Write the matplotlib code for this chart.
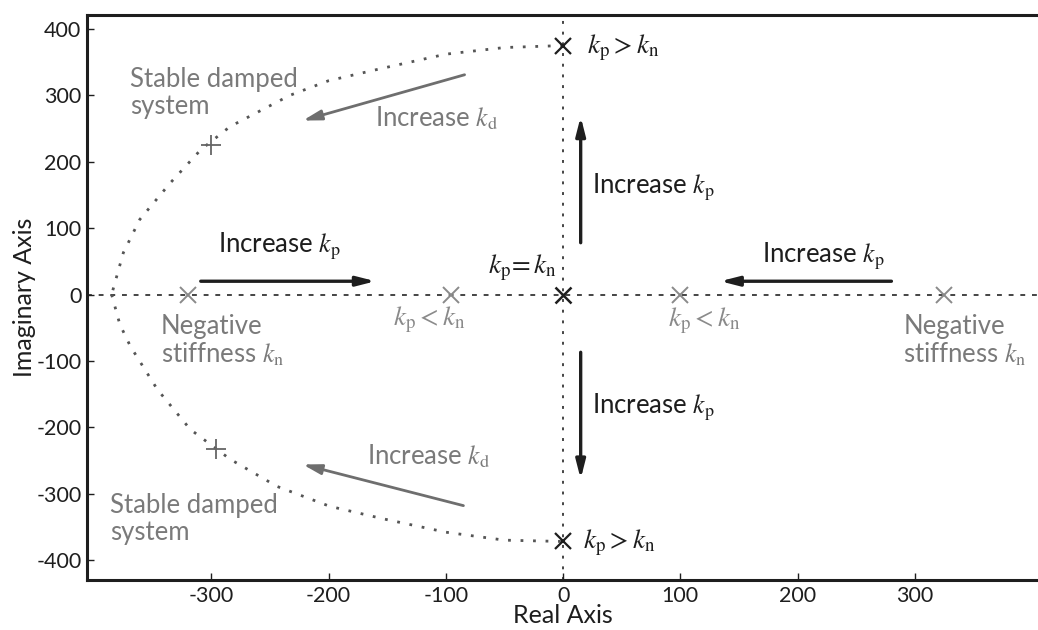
import matplotlib.pyplot as plt

plt.rcParams['font.family'] = ['Lato', 'DejaVu Sans']
plt.rcParams['mathtext.fontset'] = 'stix'
plt.rcParams['axes.unicode_minus'] = False

# locus traced by the damped poles
upper_x = [0, -50, -100, -156, -200, -233, -284, -309, -335, -361, -375, -385]
upper_y = [375, 372, 362, 340, 322, 300, 253, 218, 168, 113, 63, 0]
lower_x = [-385, -378, -369, -346, -318, -284, -244, -199, -153, -100, -50, 0]
lower_y = [0, -45, -78, -143, -203, -248, -289, -319, -338, -358, -370, -372]

# poles
neg_stiff_x = [-320, -96, 100, 325]      # gray x on the real axis
kp_gt_kn_y = [375, -372]                 # black x on the imaginary axis
damped_x = [-300, -296]                  # + markers
damped_y = [225, -233]

xticks = [-300, -200, -100, 0, 100, 200, 300]
yticks = [-400, -300, -200, -100, 0, 100, 200, 300, 400]

GRAY = '#7a7a7a'
DARK = '#1e1e1e'

fig = plt.figure(figsize=(10.38, 6.30), dpi=100)
ax = fig.add_axes([87 / 1038, 50 / 630, 1 - 87 / 1038, 565 / 630])
ax.set_xlim(-406, 405)
ax.set_ylim(-430, 421)

# dotted axes through the origin
ax.axhline(0, color='#444444', lw=1.4, ls=(0, (2.5, 3.5)), zorder=1)
ax.axvline(0, color='#444444', lw=1.4, ls=(0, (1.5, 4)), zorder=1)

# dotted locus
ax.plot(upper_x, upper_y, color='#555555', lw=2.0, ls=(0, (1, 3.5)), zorder=2)
ax.plot(lower_x, lower_y, color='#555555', lw=2.0, ls=(0, (1, 3.5)), zorder=2)

# markers
ax.plot(neg_stiff_x, [0] * len(neg_stiff_x), 'x', color='#8a8a8a', ms=11, mew=1.4, zorder=3)
ax.plot([0, 0], kp_gt_kn_y, 'x', color=DARK, ms=11, mew=1.6, zorder=3)
ax.plot([0], [0], 'x', color=DARK, ms=11, mew=1.8, zorder=3)
ax.plot(damped_x, damped_y, '+', color='#666666', ms=15, mew=1.3, zorder=3)

# arrows
black_arrow = dict(arrowstyle='-|>,head_length=1.1,head_width=0.28', color=DARK, lw=2.4,
                   shrinkA=0, shrinkB=0)
gray_arrow = dict(arrowstyle='-|>,head_length=1.1,head_width=0.3', color='#6e6e6e', lw=2.0,
                  shrinkA=0, shrinkB=0)
ax.annotate('', xy=(-160, 20), xytext=(-309, 20), arrowprops=black_arrow)
ax.annotate('', xy=(134, 20), xytext=(280, 20), arrowprops=black_arrow)
ax.annotate('', xy=(15, 268), xytext=(15, 78), arrowprops=black_arrow)
ax.annotate('', xy=(15, -278), xytext=(15, -87), arrowprops=black_arrow)
ax.annotate('', xy=(-222, 262), xytext=(-84, 331), arrowprops=gray_arrow)
ax.annotate('', xy=(-222, -256), xytext=(-85, -318), arrowprops=gray_arrow)

fs = 18.5
kp = r'$k_\mathrm{p}$'
kd = r'$k_\mathrm{d}$'
kn = r'$k_\mathrm{n}$'

# black labels
ax.text(-294, 72, 'Increase ' + kp, fontsize=fs, color=DARK, va='center')
ax.text(170, 58, 'Increase ' + kp, fontsize=fs, color=DARK, va='center')
ax.text(25, 162, 'Increase ' + kp, fontsize=fs, color=DARK, va='center')
ax.text(25, -170, 'Increase ' + kp, fontsize=fs, color=DARK, va='center')
ax.text(-5, 40, r'$k_\mathrm{p}\!=k_\mathrm{n}$', fontsize=fs + 1, color=DARK, va='center', ha='right')
ax.text(20, 372, r'$k_\mathrm{p} > k_\mathrm{n}$', fontsize=fs + 1, color=DARK, va='center')
ax.text(17, -374, r'$k_\mathrm{p} > k_\mathrm{n}$', fontsize=fs + 1, color=DARK, va='center')

# gray labels
ax.text(-369, 304, 'Stable damped\nsystem', fontsize=fs, color=GRAY, va='center', linespacing=1.1)
ax.text(-386, -338, 'Stable damped\nsystem', fontsize=fs, color=GRAY, va='center', linespacing=1.1)
ax.text(-160, 266, 'Increase ' + kd, fontsize=fs, color=GRAY, va='center')
ax.text(-167, -244, 'Increase ' + kd, fontsize=fs, color=GRAY, va='center')
ax.text(-343, -70, 'Negative\nstiffness ' + kn, fontsize=fs, color=GRAY, va='center', linespacing=1.1)
ax.text(290, -70, 'Negative\nstiffness ' + kn, fontsize=fs, color=GRAY, va='center', linespacing=1.1)
ax.text(-114, -38, r'$k_\mathrm{p} < k_\mathrm{n}$', fontsize=fs + 1, color='#8a8a8a', va='center', ha='center')
ax.text(120, -40, r'$k_\mathrm{p} < k_\mathrm{n}$', fontsize=fs + 1, color='#8a8a8a', va='center', ha='center')

# axes styling
ax.set_xticks(xticks)
ax.set_yticks(yticks)
ax.tick_params(direction='in', length=5, width=1, colors=DARK, labelsize=15.5, pad=4)
ax.spines['right'].set_visible(False)
for s in ('left', 'bottom', 'top'):
    ax.spines[s].set_linewidth(2.2)
    ax.spines[s].set_color(DARK)
ax.set_xlabel('Real Axis', fontsize=18, color=DARK, labelpad=-1)
ax.set_ylabel('Imaginary Axis', fontsize=18, color=DARK, labelpad=0)

fig.savefig('out.png', dpi=100)
